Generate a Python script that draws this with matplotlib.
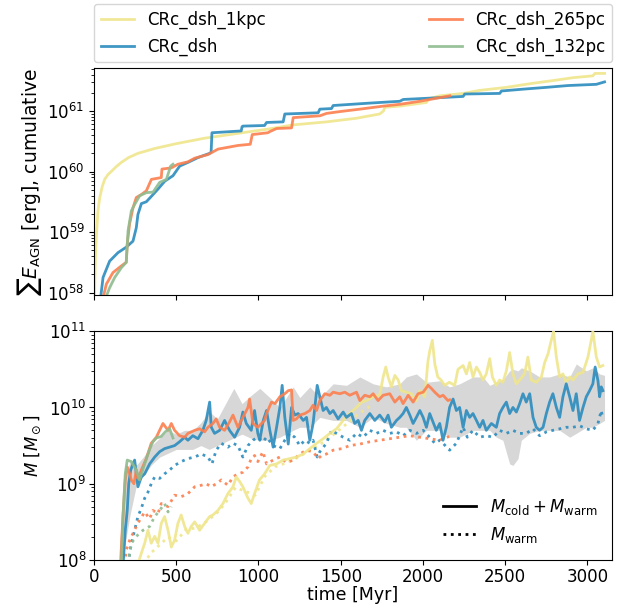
import numpy as np
import matplotlib
matplotlib.use("Agg")
import matplotlib.pyplot as plt
from matplotlib.lines import Line2D

# run names and colours
runs = ["CRc_dsh_1kpc", "CRc_dsh", "CRc_dsh_265pc", "CRc_dsh_132pc"]
colors = ["#f0e68c", "#2b8cbe", "#fc7f4f", "#8fbc8f"]

# ---- top panel: cumulative AGN energy, log10(E / erg) ----
t_e_1kpc = [1, 5, 10, 16, 24, 35, 50, 65, 85, 105, 135, 166, 210, 267, 369, 500,
            672, 875, 1057, 1211, 1414, 1596, 1737, 1760, 1768, 1859, 2021, 2035,
            2102, 2244, 2345, 2507, 2649, 2811, 2912, 3033, 3045, 3104]
e_1kpc = [57.5, 58.2, 58.7, 59.0, 59.35, 59.57, 59.75, 59.87, 59.95, 60.0, 60.08,
          60.15, 60.23, 60.30, 60.38, 60.46, 60.55, 60.63, 60.70, 60.77, 60.82,
          60.88, 60.95, 61.0, 61.06, 61.08, 61.14, 61.2, 61.25, 61.29, 61.34,
          61.39, 61.45, 61.51, 61.55, 61.58, 61.62, 61.62]

t_e_dsh = [35, 55, 95, 146, 196, 237, 257, 267, 288, 318, 349, 389, 430, 480, 521,
           571, 632, 703, 712, 717, 895, 900, 905, 1037, 1049, 1150, 1160, 1363,
           1373, 1444, 1454, 1677, 1859, 1880, 2102, 2244, 2254, 2467, 2477, 2608,
           2750, 2882, 3054, 3104]
e_dsh = [57.8, 58.25, 58.52, 58.66, 58.75, 58.85, 59.07, 59.29, 59.47, 59.50,
         59.59, 59.71, 59.84, 59.93, 60.09, 60.15, 60.23, 60.30, 60.32, 60.64,
         60.67, 60.74, 60.75, 60.76, 60.81, 60.82, 60.95, 60.97, 61.03, 61.04,
         61.09, 61.13, 61.16, 61.19, 61.22, 61.24, 61.28, 61.29, 61.33, 61.36,
         61.39, 61.42, 61.44, 61.48]

t_e_265 = [45, 75, 115, 166, 196, 202, 216, 237, 257, 288, 318, 349, 409, 413, 470,
           510, 571, 612, 693, 754, 875, 950, 962, 1057, 1069, 1110, 1201, 1211,
           1373, 1414, 1495, 1616, 1758, 1859, 1981, 2102, 2163]
e_265 = [57.8, 58.14, 58.33, 58.44, 58.50, 58.80, 59.13, 59.40, 59.57, 59.62,
         59.68, 59.87, 59.90, 60.04, 60.06, 60.12, 60.16, 60.22, 60.28, 60.37,
         60.43, 60.45, 60.61, 60.64, 60.66, 60.71, 60.72, 60.89, 60.92, 60.96,
         60.99, 61.03, 61.08, 61.11, 61.16, 61.22, 61.25]

t_e_132 = [55, 95, 126, 166, 196, 207, 227, 248, 278, 318, 359, 399, 440, 466, 480]
e_132 = [57.8, 58.08, 58.25, 58.41, 58.50, 59.02, 59.35, 59.46, 59.60, 59.65,
         59.66, 59.82, 59.87, 60.09, 60.12]

# ---- bottom panel: gas mass, log10(M / Msun) ----
t_m_1kpc = [267, 288, 308, 328, 348, 369, 389, 409, 429, 450, 470, 490, 510, 530,
            551, 571, 591, 612, 642, 672, 703, 723, 753, 784, 814, 845, 865, 885,
            905, 936, 956, 976, 1006, 1037, 1069, 1110, 1150, 1191, 1231, 1272,
            1312, 1353, 1393, 1434, 1474, 1515, 1555, 1596, 1626, 1656, 1697, 1737,
            1758, 1774, 1788, 1808, 1829, 1849, 1869, 1899, 1930, 1960, 1981, 2011,
            2030, 2041, 2057, 2072, 2090, 2110, 2132, 2160, 2193, 2213, 2244, 2264,
            2284, 2304, 2325, 2345, 2365, 2385, 2406, 2422, 2446, 2466, 2486, 2507,
            2527, 2547, 2568, 2588, 2618, 2638, 2659, 2689, 2720, 2740, 2760, 2780,
            2794, 2811, 2831, 2851, 2871, 2892, 2912, 2942, 2973, 3003, 3023, 3033,
            3054, 3074, 3094]
m_1kpc = [7.95, 8.09, 8.22, 8.39, 8.22, 8.31, 8.22, 8.48, 8.57, 8.39, 8.17, 8.26,
          8.48, 8.59, 8.44, 8.35, 8.44, 8.50, 8.39, 8.48, 8.57, 8.59, 8.65, 8.74,
          8.87, 8.96, 9.09, 9.03, 8.96, 8.81, 8.74, 8.87, 9.05, 9.13, 9.24, 9.26,
          9.31, 9.33, 9.35, 9.39, 9.46, 9.53, 9.59, 9.66, 9.72, 9.83, 9.92, 10.0,
          10.07, 10.09, 10.14, 10.16, 10.40, 10.53, 10.40, 10.27, 10.42, 10.36,
          10.22, 10.20, 10.18, 10.09, 10.22, 10.14, 10.6, 10.74, 10.88, 10.57,
          10.40, 10.36, 10.29, 10.33, 10.29, 10.50, 10.55, 10.44, 10.59, 10.40,
          10.53, 10.46, 10.36, 10.44, 10.64, 10.40, 10.29, 10.36, 10.33, 10.48,
          10.72, 10.44, 10.31, 10.36, 10.44, 10.66, 10.36, 10.33, 10.40, 10.59,
          10.70, 10.88, 11.0, 10.66, 10.40, 10.44, 10.33, 10.40, 10.36, 10.44,
          10.46, 10.66, 10.88, 11.0, 10.66, 10.53, 10.55]

t_w_1kpc = [300, 350, 400, 450, 500, 560, 620, 680, 740, 800, 860, 920, 980, 1040,
            1100, 1200, 1300, 1400, 1500, 1600, 1700]
w_1kpc = [7.95, 8.1, 8.2, 8.3, 8.25, 8.4, 8.42, 8.5, 8.6, 8.75, 8.95, 8.9, 8.85,
          9.1, 9.22, 9.3, 9.42, 9.55, 9.72, 9.9, 10.05]

t_m_dsh = [176, 190, 202, 211, 223, 237, 247, 257, 267, 288, 308, 338, 369, 399,
           429, 460, 490, 520, 551, 571, 601, 632, 662, 682, 703, 713, 733, 764,
           794, 824, 855, 885, 905, 926, 956, 976, 996, 1008, 1029, 1049, 1069,
           1089, 1110, 1130, 1144, 1160, 1181, 1201, 1221, 1241, 1272, 1292, 1312,
           1332, 1357, 1373, 1393, 1413, 1434, 1454, 1484, 1515, 1535, 1565, 1585,
           1606, 1626, 1646, 1677, 1707, 1737, 1768, 1788, 1808, 1839, 1859, 1879,
           1899, 1920, 1940, 1960, 1981, 2001, 2021, 2041, 2061, 2081, 2102, 2122,
           2142, 2162, 2183, 2203, 2223, 2244, 2264, 2284, 2304, 2325, 2345, 2365,
           2385, 2416, 2446, 2466, 2486, 2507, 2527, 2547, 2568, 2588, 2608, 2628,
           2649, 2669, 2689, 2709, 2730, 2750, 2770, 2790, 2811, 2831, 2851, 2871,
           2892, 2912, 2932, 2952, 2973, 2993, 3013, 3033, 3047, 3064, 3074, 3084,
           3094]
m_dsh = [7.9, 8.39, 8.65, 9.0, 9.18, 9.26, 9.31, 9.13, 8.96, 9.09, 9.13, 9.26,
         9.35, 9.42, 9.46, 9.48, 9.50, 9.55, 9.61, 9.57, 9.63, 9.59, 9.70, 9.83,
         10.07, 9.74, 9.66, 9.70, 9.83, 9.70, 9.61, 9.74, 9.94, 9.79, 9.70, 9.96,
         9.66, 9.57, 9.83, 9.96, 9.70, 9.48, 9.74, 10.0, 10.29, 9.87, 9.52, 10.0,
         9.90, 9.92, 9.83, 9.87, 9.57, 9.79, 10.29, 10.14, 9.96, 10.0, 9.92, 9.96,
         9.85, 9.94, 9.87, 9.92, 9.79, 9.83, 9.70, 9.83, 9.92, 9.83, 9.90, 9.81,
         9.90, 9.74, 9.83, 9.87, 9.92, 10.0, 9.90, 9.79, 9.87, 9.96, 9.87, 9.74,
         9.92, 9.81, 9.70, 9.79, 9.57, 9.74, 10.0, 10.11, 9.96, 10.0, 9.74, 9.96,
         9.87, 9.92, 9.83, 9.74, 9.83, 9.70, 9.79, 9.74, 9.92, 10.0, 10.07, 9.92,
         10.0, 9.94, 10.05, 10.18, 10.07, 10.18, 9.87, 9.74, 9.70, 9.74, 9.92,
         10.07, 10.18, 10.0, 9.87, 10.14, 10.31, 10.14, 9.96, 10.18, 9.83, 10.0,
         10.14, 10.22, 10.31, 10.53, 10.35, 10.14, 10.27, 10.22]

t_w_dsh = [207, 227, 247, 267, 288, 308, 328, 348, 369, 399, 429, 460, 490, 530,
           571, 612, 652, 693, 717, 743, 774, 814, 845, 875, 905, 936, 966, 996,
           1027, 1049, 1089, 1130, 1160, 1190, 1220, 1251, 1282, 1312, 1332, 1357,
           1373, 1413, 1444, 1474, 1515, 1555, 1596, 1636, 1677, 1717, 1758, 1798,
           1839, 1879, 1920, 1960, 2001, 2041, 2072, 2102, 2122, 2162, 2203, 2244,
           2270, 2304, 2345, 2385, 2426, 2466, 2507, 2547, 2588, 2628, 2669, 2709,
           2750, 2790, 2831, 2871, 2912, 2952, 2993, 3033, 3064, 3084, 3094]
w_dsh = [7.95, 8.22, 8.39, 8.57, 8.68, 8.81, 8.89, 9.0, 9.09, 9.07, 9.13, 9.18,
         9.24, 9.29, 9.33, 9.35, 9.39, 9.35, 9.26, 9.44, 9.53, 9.48, 9.53, 9.50,
         9.35, 9.50, 9.57, 9.61, 9.55, 9.61, 9.50, 9.46, 9.57, 9.66, 9.61, 9.50,
         9.57, 9.53, 9.57, 9.35, 9.42, 9.53, 9.70, 9.66, 9.61, 9.57, 9.66, 9.61,
         9.70, 9.66, 9.70, 9.66, 9.68, 9.63, 9.70, 9.66, 9.70, 9.61, 9.53, 9.57,
         9.53, 9.44, 9.53, 9.74, 9.61, 9.70, 9.61, 9.63, 9.61, 9.70, 9.66, 9.70,
         9.66, 9.66, 9.72, 9.63, 9.68, 9.70, 9.72, 9.74, 9.74, 9.76, 9.72, 9.70,
         9.79, 9.96, 9.85]

t_m_265 = [160, 176, 190, 202, 217, 227, 243, 257, 267, 288, 318, 348, 379, 399,
           419, 450, 470, 490, 520, 551, 571, 612, 642, 672, 693, 723, 743, 764,
           794, 824, 845, 875, 905, 936, 946, 966, 996, 1037, 1049, 1079, 1100,
           1130, 1160, 1181, 1201, 1211, 1231, 1251, 1282, 1312, 1332, 1353, 1373,
           1403, 1434, 1454, 1494, 1525, 1555, 1596, 1616, 1646, 1677, 1697, 1727,
           1758, 1798, 1829, 1859, 1879, 1910, 1940, 1970, 2001, 2031, 2051, 2072,
           2102, 2122, 2152, 2162]
m_265 = [7.9, 8.57, 9.05, 9.22, 9.13, 9.05, 9.0, 9.18, 9.07, 9.18, 9.33, 9.53,
         9.61, 9.70, 9.79, 9.70, 9.79, 9.70, 9.63, 9.61, 9.66, 9.70, 9.72, 9.68,
         9.74, 9.79, 9.85, 9.74, 9.70, 9.81, 9.90, 9.74, 9.87, 10.0, 10.11, 9.79,
         9.74, 9.83, 9.92, 10.07, 10.05, 10.14, 10.18, 10.22, 10.23, 9.83, 9.85,
         9.90, 9.92, 9.96, 10.03, 9.96, 10.09, 10.18, 10.16, 10.2, 10.18, 10.2,
         10.16, 10.2, 10.09, 10.16, 10.14, 10.18, 10.09, 10.16, 10.18, 10.07,
         10.14, 10.05, 10.16, 10.07, 10.18, 10.2, 10.29, 10.25, 10.2, 10.14,
         10.16, 10.09, 10.1]

t_w_265 = [186, 196, 217, 237, 257, 277, 308, 338, 358, 389, 409, 450, 490, 530,
           571, 612, 652, 682, 713, 743, 774, 814, 845, 875, 905, 936, 956, 976,
           996, 1027, 1049, 1089, 1130, 1170, 1211, 1251, 1292, 1332, 1363, 1383,
           1413, 1454, 1505, 1555, 1616, 1677, 1737, 1798, 1859, 1920, 1980, 2041,
           2100, 2160]
w_265 = [7.95, 8.13, 8.26, 8.35, 8.44, 8.52, 8.63, 8.54, 8.65, 8.61, 8.74, 8.70,
         8.85, 8.83, 8.87, 8.96, 8.98, 9.0, 8.96, 9.0, 9.05, 8.98, 9.09, 9.13,
         9.15, 9.22, 9.33, 9.37, 9.29, 9.42, 9.26, 9.31, 9.35, 9.28, 9.31, 9.39,
         9.44, 9.42, 9.33, 9.37, 9.39, 9.44, 9.46, 9.50, 9.52, 9.55, 9.57, 9.59,
         9.61, 9.63, 9.61, 9.59, 9.57, 9.62]

t_m_132 = [166, 176, 190, 202, 227, 257, 277, 308, 338, 358, 379, 409, 433, 460, 480]
m_132 = [7.9, 8.57, 9.13, 9.31, 9.29, 9.18, 9.05, 9.26, 9.45, 9.55, 9.6, 9.62,
         9.68, 9.72, 9.6]

t_w_132 = [207, 227, 257, 298, 338, 369, 399, 429, 450, 470]
w_132 = [7.95, 8.22, 8.31, 8.39, 8.44, 8.57, 8.65, 8.74, 8.63, 8.70]

# grey band (spread between runs)
t_band = [156, 180, 220, 260, 300, 350, 400, 450, 500, 550, 600, 650, 700, 750,
          800, 850, 900, 950, 1008, 1069, 1130, 1211, 1251, 1312, 1373, 1454, 1535,
          1616, 1697, 1778, 1859, 1899, 1960, 2021, 2102, 2162, 2223, 2304, 2365,
          2406, 2446, 2486, 2527, 2547, 2578, 2598, 2649, 2709, 2770, 2831, 2892,
          2932, 2993, 3033, 3074, 3104]
band_lo = [7.9, 8.1, 8.6, 9.0, 9.1, 9.25, 9.35, 9.4, 9.45, 9.45, 9.45, 9.5, 9.45,
           9.5, 9.55, 9.6, 9.65, 9.6, 9.57, 9.57, 9.61, 9.70, 9.74, 9.74, 9.87,
           9.83, 9.83, 9.74, 9.87, 9.79, 9.74, 9.74, 9.57, 9.70, 9.7, 9.61, 9.61,
           9.70, 9.70, 9.70, 9.61, 9.57, 9.26, 9.24, 9.33, 9.57, 9.66, 9.70, 9.70,
           9.70, 9.61, 9.66, 9.74, 9.74, 9.79, 9.83]
band_hi = [8.2, 9.0, 9.3, 9.25, 9.35, 9.5, 9.6, 9.7, 9.65, 9.7, 9.7, 9.8, 9.95,
           9.85, 10.05, 10.25, 10.05, 10.15, 10.25, 10.13, 10.0, 10.27, 10.13,
           10.27, 10.13, 10.31, 10.29, 10.40, 10.31, 10.27, 10.31, 10.40, 10.44,
           10.33, 10.35, 10.27, 10.31, 10.40, 10.40, 10.29, 10.33, 10.36, 10.48,
           10.50, 10.48, 10.52, 10.48, 10.40, 10.40, 10.44, 10.40, 10.57, 10.48,
           10.52, 10.44, 10.42]

fig = plt.figure(figsize=(6.28, 6.07), dpi=100)
ax1 = fig.add_axes([0.1497, 0.514, 0.825, 0.374])
ax2 = fig.add_axes([0.1497, 0.0774, 0.825, 0.377], sharex=ax1)

lw = 2.0
top_data = [(t_e_1kpc, e_1kpc), (t_e_dsh, e_dsh), (t_e_265, e_265), (t_e_132, e_132)]
for (t, e), c, name in zip(top_data, colors, runs):
    ax1.plot(t, 10 ** np.array(e), color=c, lw=lw, alpha=0.9, label=name)

ax1.set_yscale("log")
ax1.set_ylim(10 ** 57.96, 10 ** 61.71)
ax1.set_ylabel(r"$\sum E_{\rm AGN}$ [erg], cumulative", fontsize=13.5, labelpad=2)
ax1.tick_params(labelbottom=False, labelsize=12)
ax1.legend(loc="lower left", bbox_to_anchor=(0.0, 1.025, 1.0, 0.2), ncol=2,
           mode="expand", borderaxespad=0.0, fontsize=12)

ax2.fill_between(t_band, 10 ** np.array(band_lo), 10 ** np.array(band_hi),
                 color="lightgrey", alpha=0.9, lw=0, zorder=1)

mass_data = [(t_m_1kpc, m_1kpc, t_w_1kpc, w_1kpc),
             (t_m_dsh, m_dsh, t_w_dsh, w_dsh),
             (t_m_265, m_265, t_w_265, w_265),
             (t_m_132, m_132, t_w_132, w_132)]
for (tm, m, tw, w), c in zip(mass_data, colors):
    ax2.plot(tw, 10 ** np.array(w), color=c, lw=lw, ls=":", alpha=0.9, zorder=2)
    ax2.plot(tm, 10 ** np.array(m), color=c, lw=lw, alpha=0.9, zorder=3)

ax2.set_yscale("log")
ax2.set_ylim(1e8, 1e11)
ax2.set_xlim(0, 3150)
ax2.set_xticks([0, 500, 1000, 1500, 2000, 2500, 3000])
ax2.set_xlabel("time [Myr]", fontsize=12.5, labelpad=0)
ax2.set_ylabel(r"$M\ [M_\odot]$", fontsize=12)
ax2.tick_params(labelsize=12, pad=2)

handles = [Line2D([], [], color="k", lw=2),
           Line2D([], [], color="k", lw=2, ls=":")]
ax2.legend(handles, [r"$M_{\rm cold}+M_{\rm warm}$", r"$M_{\rm warm}$"],
           loc="lower right", frameon=False, fontsize=12)

fig.savefig("out.png", dpi=100)
